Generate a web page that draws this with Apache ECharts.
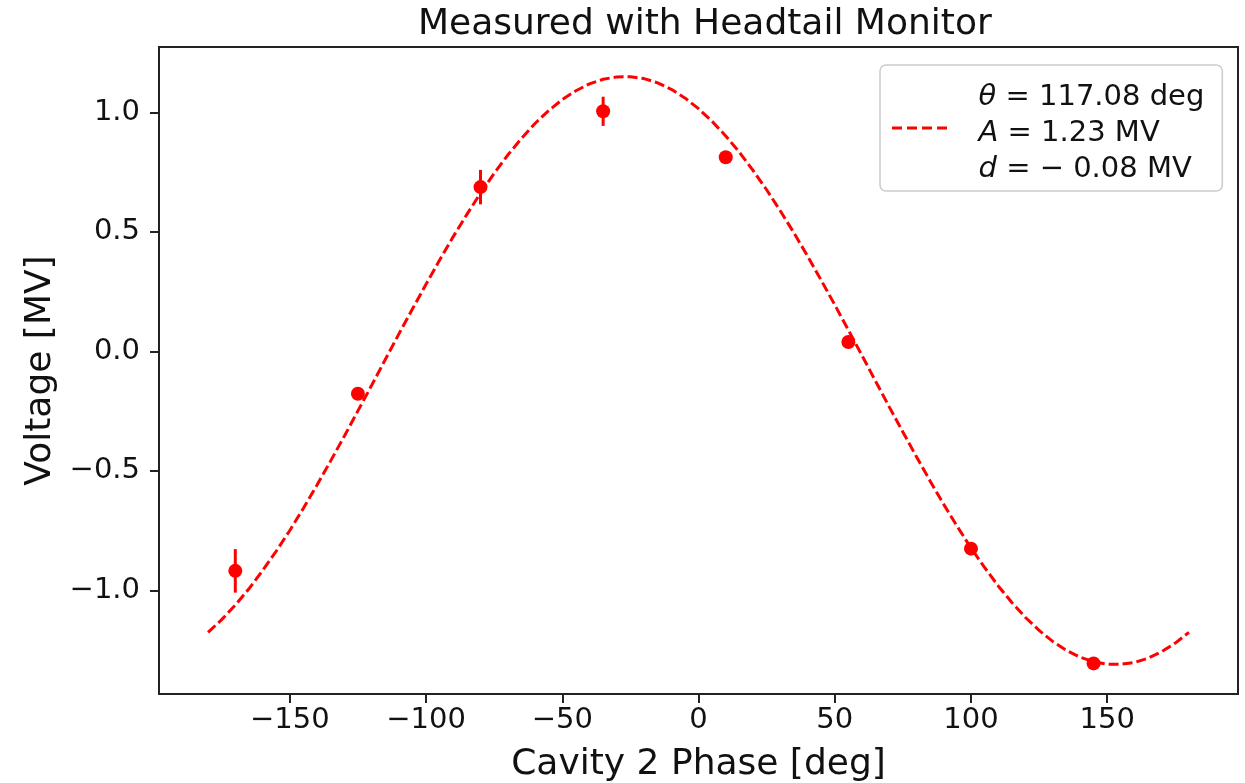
<!DOCTYPE html>
<html>
<head>
<meta charset="utf-8">
<script src="https://cdn.jsdelivr.net/npm/echarts@6/dist/echarts.min.js"></script>
<style>html,body{margin:0;padding:0;background:#fff;overflow:hidden;}#c{width:1245px;height:783px;}</style>
</head>
<body>
<div id="c"></div>
<script>
// Measured points
const phase = [-170, -125, -80, -35, 10, 55, 100, 145];
const voltage = [-0.918, -0.177, 0.687, 1.004, 0.812, 0.039, -0.825, -1.305];
const voltageErr = [0.091, 0.025, 0.072, 0.061, 0.02, 0.02, 0.02, 0.015];
// Fitted curve (every 5 deg)
const fitPhase = [-180,-175,-170,-165,-160,-155,-150,-145,-140,-135,-130,-125,-120,-115,-110,-105,-100,-95,-90,-85,-80,-75,-70,-65,-60,-55,-50,-45,-40,-35,-30,-25,-20,-15,-10,-5,0,5,10,15,20,25,30,35,40,45,50,55,60,65,70,75,80,85,90,95,100,105,110,115,120,125,130,135,140,145,150,155,160,165,170,175,180];
const fitVoltage = [-1.175,-1.122,-1.061,-0.993,-0.917,-0.836,-0.749,-0.656,-0.559,-0.458,-0.355,-0.249,-0.143,-0.035,0.072,0.177,0.281,0.382,0.480,0.573,0.662,0.744,0.821,0.890,0.953,1.007,1.053,1.090,1.119,1.138,1.148,1.149,1.141,1.123,1.096,1.060,1.015,0.962,0.901,0.833,0.757,0.676,0.588,0.496,0.399,0.298,0.195,0.089,-0.017,-0.125,-0.232,-0.337,-0.441,-0.542,-0.640,-0.733,-0.822,-0.904,-0.981,-1.050,-1.113,-1.167,-1.213,-1.250,-1.279,-1.298,-1.308,-1.309,-1.301,-1.283,-1.256,-1.220,-1.175];
const xTicks = [-150, -100, -50, 0, 50, 100, 150];
const yTicks = [-1.0, -0.5, 0.0, 0.5, 1.0];
const legendLines = ['{i|θ} = 117.08 deg', '{i|A} = 1.23 MV', '{i|d} = − 0.08 MV'];

const FONT = 'DejaVu Sans';
const RED = '#ff0000';
const fmtMinus = v => String(v).replace('-', '\u2212');

const chart = echarts.init(document.getElementById('c'), null, {renderer: 'canvas'});
chart.setOption({
  animation: false,
  backgroundColor: '#ffffff',
  title: {
    text: 'Measured with Headtail Monitor',
    left: 418, top: 7, padding: 0,
    textStyle: {fontFamily: FONT, fontSize: 36, fontWeight: 'normal', color: '#111'}
  },
  grid: {left: 159, right: 7, top: 47, bottom: 89, outerBoundsMode: 'none', containLabel: false, show: true, borderColor: '#222', borderWidth: 2, backgroundColor: 'transparent'},
  legend: {
    left: 880, top: 65,
    data: [{name: 'fit', icon: 'path://M0 0H10V3H0Z M15 0H25V3H15Z M30 0H40V3H30Z M45 0H55V3H45Z'}],
    itemWidth: 58, itemHeight: 3,
    padding: [4, 18, 4, 12],
    backgroundColor: 'rgba(255,255,255,0.8)',
    borderColor: '#cccccc', borderWidth: 1.5, borderRadius: 6,
    itemStyle: {color: RED},
    formatter: () => legendLines.join('\n'),
    textStyle: {
      fontFamily: FONT, fontSize: 29, color: '#111', lineHeight: 36,
      padding: [10, 0, 0, 25],
      rich: {i: {fontFamily: FONT, fontSize: 29, fontStyle: 'italic', color: '#111', lineHeight: 36}}
    }
  },
  xAxis: {
    type: 'value', min: -198, max: 198,
    name: 'Cavity 2 Phase [deg]', nameLocation: 'middle', nameGap: 53,
    nameTextStyle: {fontFamily: FONT, fontSize: 36, color: '#111'},
    axisLine: {show: true, onZero: false, lineStyle: {color: '#222', width: 2}},
    axisTick: {show: true, length: 9, lineStyle: {color: '#222', width: 2}, customValues: xTicks},
    axisLabel: {customValues: xTicks, formatter: fmtMinus, margin: 12, fontFamily: FONT, fontSize: 29, color: '#111'},
    splitLine: {show: false}
  },
  yAxis: {
    type: 'value', min: -1.433, max: 1.273,
    name: 'Voltage [MV]', nameLocation: 'middle', nameGap: 98,
    nameTextStyle: {fontFamily: FONT, fontSize: 36, color: '#111'},
    axisLine: {show: true, onZero: false, lineStyle: {color: '#222', width: 2}},
    axisTick: {show: true, length: 9, lineStyle: {color: '#222', width: 2}, customValues: yTicks},
    axisLabel: {customValues: yTicks, formatter: v => fmtMinus(Number(v).toFixed(1)), margin: 19, fontFamily: FONT, fontSize: 29, color: '#111'},
    splitLine: {show: false}
  },
  series: [
    {
      name: 'fit', type: 'line', smooth: false, symbol: 'none', showSymbol: false,
      data: fitPhase.map((p, i) => [p, fitVoltage[i]]),
      lineStyle: {color: RED, width: 3, type: [10, 4]},
      itemStyle: {color: RED},
      z: 2
    },
    {
      name: 'err', type: 'custom',
      data: phase.map((p, i) => [p, voltage[i], voltageErr[i]]),
      renderItem: (params, api) => {
        const x = api.value(0), y = api.value(1), e = api.value(2);
        const a = api.coord([x, y - e]), b = api.coord([x, y + e]);
        return {type: 'line', shape: {x1: a[0], y1: a[1], x2: b[0], y2: b[1]}, style: {stroke: RED, lineWidth: 3}};
      },
      z: 3
    },
    {
      name: 'data', type: 'scatter', symbol: 'circle', symbolSize: 14,
      data: phase.map((p, i) => [p, voltage[i]]),
      itemStyle: {color: RED, opacity: 1},
      z: 4
    }
  ]
});
</script>
</body>
</html>
